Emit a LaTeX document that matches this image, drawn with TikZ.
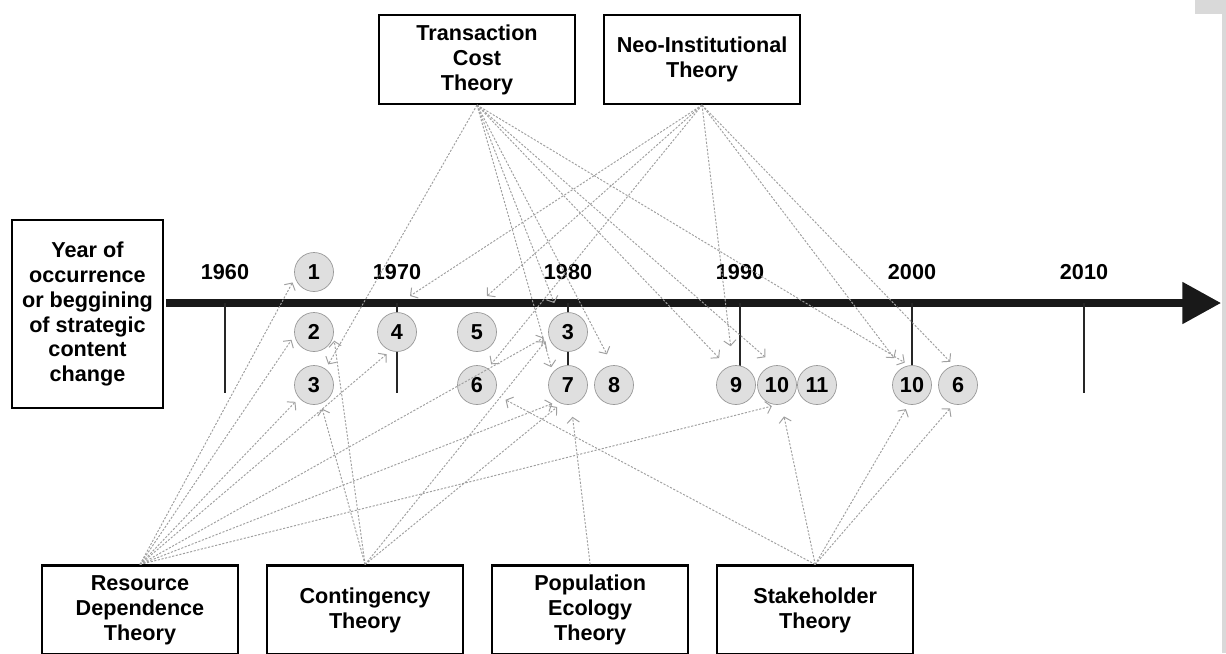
\documentclass[tikz,border=0pt]{standalone}
\usepackage{fontspec}
\setmainfont{Liberation Sans}
\usetikzlibrary{positioning,arrows.meta}

\begin{document}
\begin{tikzpicture}[
    x=0.02cm, y=-0.02cm,
    font=\fontsize{12.3}{14.2}\selectfont\bfseries,
    theory/.style={
      draw,
      line width=1.2pt,
      fill=white,
      align=center,
      minimum width=3.92cm,
      minimum height=1.78cm
    },
    event/.style={
      circle,
      draw=gray!80,
      fill=gray!25,
      minimum size=0.78cm,
      inner sep=0pt
    },
    yeartick/.style={line width=1.4pt, black!85},
    link/.style={
      draw=gray!75,
      line width=0.55pt,
      dash pattern=on 1.2pt off 0.9pt,
      -{Straight Barb[length=3pt,width=7pt]},
      shorten >=3pt
    },
    far/.style={shorten >=7pt}
  ]
    \useasboundingbox (0,0) rectangle (1226,653);
    \clip (0,0) rectangle (1226,653);
    % scan edge
    \fill[gray!30] (1222,0) rectangle (1226,653);
    \fill[gray!30] (1195,0) rectangle (1226,14);

    % timeline
    \coordinate (tstart) at (166,303);
    \coordinate (tend) at (1221,303);
    \draw[line width=4pt, black!90, -{Triangle[length=22pt,width=23pt]}] (tstart) -- (tend);
    \foreach \x/\yr in {225/1960, 397/1970, 568/1980, 740/1990, 912/2000, 1084/2010} {
      \draw[yeartick] (\x,303) -- (\x,393);
      \node (y\yr) at (\x,272) {\yr};
    }
    \coordinate (ax1970) at (410,296);
    \coordinate (ax1975) at (487,296);

    \node[draw, line width=0.6pt, align=center, minimum width=3.02cm, minimum height=3.76cm] (yearbox) at (87.5,314)
      {Year of\\occurrence\\or beggining\\of strategic\\content\\change};

    % events
    \node[event] (ev1) at (314,272) {1};
    \node[event] (ev2) at (314,332) {2};
    \node[event] (ev3a) at (314,385) {3};
    \node[event] (ev4) at (397,332) {4};
    \node[event] (ev5) at (477,332) {5};
    \node[event] (ev6a) at (477,385) {6};
    \node[event] (ev3b) at (568,332) {3};
    \node[event] (ev7) at (568,385) {7};
    \node[event] (ev8) at (614,385) {8};
    \node[event] (ev9) at (736,385) {9};
    \node[event] (ev10a) at (777,385) {10};
    \node[event] (ev11) at (817,385) {11};
    \node[event] (ev10b) at (912,385) {10};
    \node[event] (ev6b) at (958,385) {6};

    % theories
    \node[theory] (tct) at (477,59.5) {Transaction\\Cost\\Theory};
    \node[theory, right=0.54cm of tct] (neo) {Neo-Institutional\\Theory};
    \node[theory] (rdt) at (140,610) {Resource\\Dependence\\Theory};
    \node[theory, right=0.54cm of rdt] (cont) {Contingency\\Theory};
    \node[theory, right=0.54cm of cont] (pop) {Population\\Ecology\\Theory};
    \node[theory, right=0.54cm of pop] (stake) {Stakeholder\\Theory};

    \draw[link] (tct.south) -- (ev3a.54);
    \draw[link, far] (tct.south) -- (ev3b.118);
    \draw[link] (tct.south) -- (ev7.140);
    \draw[link, far] (tct.south) -- (ev8.94);
    \draw[link, far] (tct.south) -- (ev9.115);
    \draw[link, far] (tct.south) -- (ev10a.97);
    \draw[link] (tct.south) -- (ev10b.98);

    \draw[link, shorten >=0pt] (neo.south) -- (ax1970);
    \draw[link, shorten >=0pt] (neo.south) -- (ax1975);
    \draw[link] (neo.south) -- (ev6a.57);
    \draw[link, shorten >=11pt] (neo.south) -- (ev9.99);
    \draw[link, far] (neo.south) -- (ev10b.121);
    \draw[link] (neo.south) -- (ev6b.102);

    \draw[link] (rdt.north) -- (ev1.197);
    \draw[link] (rdt.north) -- (ev2.190);
    \draw[link] (rdt.north) -- (ev3a.221);
    \draw[link] (rdt.north) -- (ev4.251);
    \draw[link] (rdt.north) -- (ev3b.189);
    \draw[link] (rdt.north) -- (ev7.237);
    \draw[link] (rdt.north) -- (ev10a.270);

    \draw[link] (cont.north) -- (ev3a.290);
    \draw[link] (cont.north) -- (ev2.350);
    \draw[link] (cont.north) -- (ev3b.195);
    \draw[link] (cont.north) -- (ev7.250);

    \draw[link, far] (pop.north) -- (ev7.279);

    \draw[link, far] (stake.north) -- (ev6a.333);
    \draw[link, far] (stake.north) -- (ev10a.283);
    \draw[link] (stake.north) -- (ev10b.260);
    \draw[link] (stake.north) -- (ev6b.257);
  \end{tikzpicture}
\end{document}
